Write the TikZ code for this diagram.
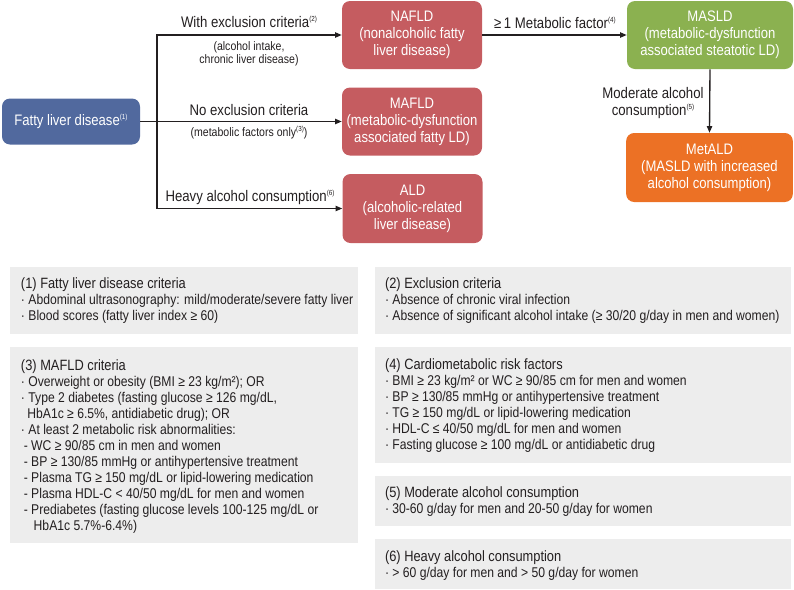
\documentclass[tikz,border=0pt]{standalone}
\usepackage{fontspec}
\setmainfont{Liberation Sans}[FakeStretch=0.86]
\usetikzlibrary{arrows.meta,calc}
\definecolor{cblue}{HTML}{51699E}
\definecolor{cred}{HTML}{C55C60}
\definecolor{cgreen}{HTML}{8BB150}
\definecolor{corange}{HTML}{EC7125}
\definecolor{cgray}{HTML}{EDEDED}
\definecolor{ctext}{HTML}{231F20}
\newcommand{\supn}[1]{\raisebox{0.75ex}{\fontsize{5.5pt}{5.5pt}\selectfont(#1)}}
\newcommand{\ttl}{\fontsize{11.2pt}{12pt}\selectfont}
\begin{document}
\begin{tikzpicture}[x=0.75pt,y=-0.75pt,
  every node/.style={text=ctext},
  mainbox/.style={rounded corners=6pt, inner sep=0pt, align=center, text=white,
    font=\fontsize{11.4pt}{12.75pt}\selectfont},
  redbox/.style={mainbox, fill=cred, minimum width=105pt, minimum height=51pt},
  graybox/.style={fill=cgray, inner sep=0pt},
  infotext/.style={anchor=north west, inner sep=0pt, align=left,
    font=\fontsize{10.6pt}{12pt}\selectfont},
  lbl/.style={inner sep=0pt, align=center, font=\fontsize{11.5pt}{12.75pt}\selectfont},
  smalllbl/.style={inner sep=0pt, align=center, font=\fontsize{9.2pt}{9.75pt}\selectfont},
  conn/.style={line width=1pt, draw=ctext},
  arr/.style={conn, -{Triangle[length=5pt,width=4pt]}}
]
\useasboundingbox (0,0) rectangle (794,590);

% main nodes
\node[mainbox, fill=cblue, minimum width=103.5pt, minimum height=34.5pt] (fld) at (71,121.5) {Fatty liver disease\supn{1}};
\node[redbox] (nafld) at (412,35) {NAFLD\\(nonalcoholic fatty\\liver disease)};
\node[redbox] (mafld) at (412,121.5) {MAFLD\\(metabolic-dysfunction\\associated fatty LD)};
\node[redbox, minimum height=51.75pt] (ald) at (412.5,208.5) {ALD\\(alcoholic-related\\liver disease)};
\node[mainbox, fill=cgreen, minimum width=124.5pt, minimum height=51pt] (masld) at (710,35) {MASLD\\(metabolic-dysfunction\\associated steatotic LD)};
\node[mainbox, fill=corange, minimum width=125pt, minimum height=51.75pt] (metald) at (709.5,167.5) {MetALD\\(MASLD with increased\\alcohol consumption)};

% connectors
\coordinate (fork) at (157,121.5);
\draw[conn] (fld.east) -- (fork);
\draw[arr] (fork) -- (mafld.west);
\draw[arr] (fork) |- (nafld.west);
\draw[arr] (fork) |- (ald.west);
\draw[arr] (nafld.east) -- (masld.west);
\draw[arr] (masld.south) -- (metald.north);

% connector labels
\node[lbl] (l1) at (249,22) {With exclusion criteria\supn{2}};
\node[smalllbl] (l1b) at (249,53.5) {(alcohol intake,\\chronic liver disease)};
\node[lbl] (l2) at (249,110) {No exclusion criteria};
\node[smalllbl] (l2b) at (249,133) {(metabolic factors only\supn{3})};
\node[lbl] (l3) at (250,197) {Heavy alcohol consumption\supn{6}};
\node[lbl] (l4) at (555,23) {≥\,1 Metabolic factor\supn{4}};
\node[lbl] (l5) at (653,103.5) {Moderate alcohol\\consumption\supn{5}};

% information boxes
\node[graybox, minimum width=261pt, minimum height=50.25pt] (b1) at (184,300.5) {};
\node[graybox, minimum width=312pt, minimum height=50.25pt] (b2) at (583,300.5) {};
\node[graybox, minimum width=261pt, minimum height=147pt] (b3) at (184,445) {};
\node[graybox, minimum width=312pt, minimum height=87pt] (b4) at (583,405) {};
\node[graybox, minimum width=312pt, minimum height=37.5pt] (b5) at (583,501) {};
\node[graybox, minimum width=312pt, minimum height=37.5pt] (b6) at (583,564) {};

\node[infotext] (t1) at ($(b1.north west)+(11,11)$) {%
{\ttl (1) Fatty liver disease criteria}\\
· Abdominal ultrasonography: mild/moderate/severe fatty liver\\
· Blood scores (fatty liver index ≥ 60)};

\node[infotext] (t2) at ($(b2.north west)+(10,11)$) {%
{\ttl (2) Exclusion criteria}\\
· Absence of chronic viral infection\\
· Absence of significant alcohol intake (≥ 30/20 g/day in men and women)};

\node[infotext] (t3) at ($(b3.north west)+(11,12.5)$) {%
{\ttl (3) MAFLD criteria}\\
· Overweight or obesity (BMI ≥ 23 kg/m²); OR\\
· Type 2 diabetes (fasting glucose ≥ 126 mg/dL,\\
\hspace*{0.45em}HbA1c ≥ 6.5\%, antidiabetic drug); OR\\
· At least 2 metabolic risk abnormalities:\\
\hspace*{0.2em}- WC ≥ 90/85 cm in men and women\\
\hspace*{0.2em}- BP ≥ 130/85 mmHg or antihypertensive treatment\\
\hspace*{0.2em}- Plasma TG ≥ 150 mg/dL or lipid-lowering medication\\
\hspace*{0.2em}- Plasma HDL-C < 40/50 mg/dL for men and women\\
\hspace*{0.2em}- Prediabetes (fasting glucose levels 100-125 mg/dL or\\
\hspace*{0.9em}HbA1c 5.7\%-6.4\%)};

\node[infotext] (t4) at ($(b4.north west)+(10,12)$) {%
{\ttl (4) Cardiometabolic risk factors}\\
· BMI ≥ 23 kg/m² or WC ≥ 90/85 cm for men and women\\
· BP ≥ 130/85 mmHg or antihypertensive treatment\\
· TG ≥ 150 mg/dL or lipid-lowering medication\\
· HDL-C ≤ 40/50 mg/dL for men and women\\
· Fasting glucose ≥ 100 mg/dL or antidiabetic drug};

\node[infotext] (t5) at ($(b5.north west)+(10,11)$) {%
{\ttl (5) Moderate alcohol consumption}\\
· 30-60 g/day for men and 20-50 g/day for women};

\node[infotext] (t6) at ($(b6.north west)+(10,12)$) {%
{\ttl (6) Heavy alcohol consumption}\\
· > 60 g/day for men and > 50 g/day for women};
\end{tikzpicture}
\end{document}
